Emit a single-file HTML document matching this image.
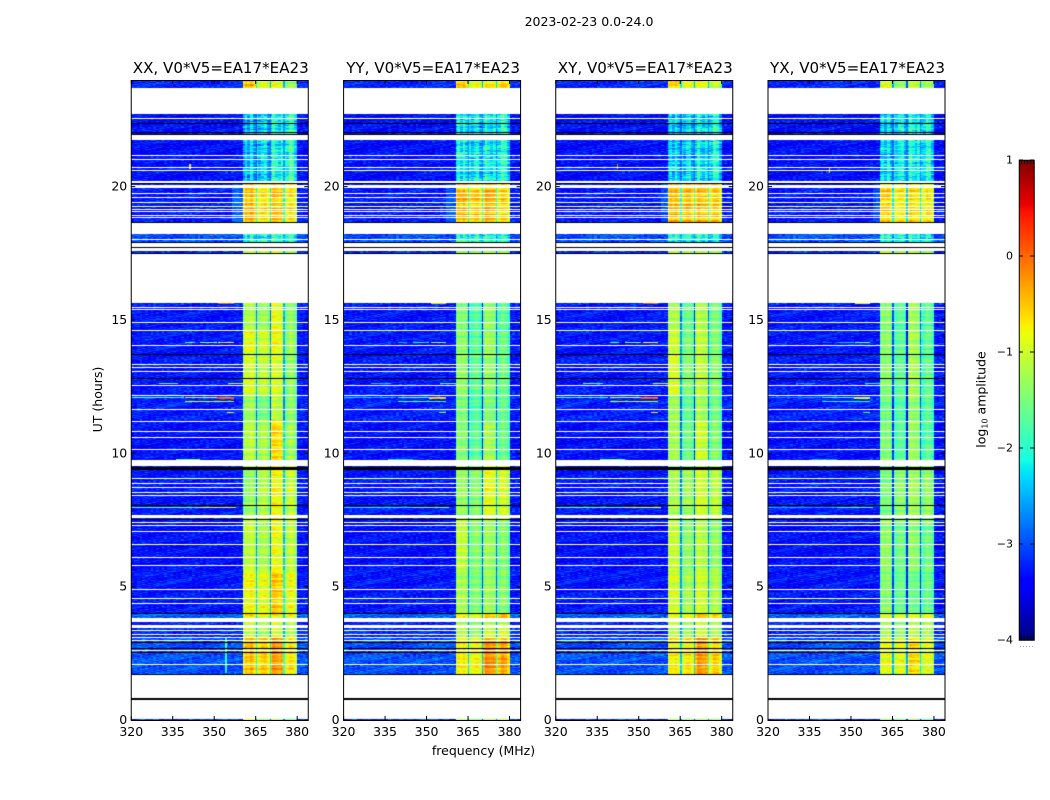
<!DOCTYPE html>
<html>
<head>
<meta charset="utf-8">
<title>2023-02-23 0.0-24.0</title>
<style>
html,body{margin:0;padding:0;background:#fff;}
#figure{position:relative;width:1050px;height:800px;overflow:hidden;background:#fff;}
canvas{position:absolute;display:block;}
svg{position:absolute;left:0;top:0;}
text{font-family:"DejaVu Sans","Liberation Sans",sans-serif;fill:#000;}
</style>
</head>
<body>
<div id="figure">
<svg id="overlay" width="1050" height="800" viewBox="0 0 1050 800">
  <text x="589" y="26" text-anchor="middle" font-size="12.5">2023-02-23 0.0-24.0</text>
  <text x="483.500" y="755" text-anchor="middle" font-size="12.5">frequency (MHz)</text>
  <text transform="translate(102,399.500) rotate(-90)" text-anchor="middle" font-size="12.5">UT (hours)</text>
  <text transform="translate(985.500,399.500) rotate(-90)" text-anchor="middle" font-size="12.5">log<tspan font-size="8" dy="2">10</tspan><tspan dy="-2"> amplitude</tspan></text>
</svg>
</div>
<script>
// ---------- Chart data ----------
const panelTitles = ["XX, V0*V5=EA17*EA23", "YY, V0*V5=EA17*EA23", "XY, V0*V5=EA17*EA23", "YX, V0*V5=EA17*EA23"];
const freqTicks = [320, 335, 350, 365, 380];
const utTicks = [0, 5, 10, 15, 20];
const colorbarTicks = [-4, -3, -2, -1, 0, 1];

// Spectral windows (MHz)
const ifWindows = [[360.5, 365], [365.5, 370], [370.5, 375], [375.5, 380]];
// Relative amplitude across one spectral window
const ifShape = [-0.22, -0.05, 0, 0.03, 0.04, 0.04, 0.03, 0, -0.05, -0.18];
// Channel-to-channel streaks inside the windows, in log10 amplitude
const channelGrain = [0.1, -0.12, 0.04, 0.16, -0.06, -0.15, 0.09, 0.02, -0.1, 0.13, 0.06, -0.17, 0.11, -0.03, 0.15, -0.08, 0, 0.08, -0.14, 0.12, -0.05, 0.17, -0.11, 0.03];

// Observed time ranges (UT hours); anything outside is blank
const timeBands = [[23.70, 24], [20.14, 22.73], [18.68, 20.14], [17.93, 18.23], [17.52, 17.60], [14.60, 15.64], [13.69, 14.60], [12.19, 13.69], [11.25, 12.19], [9.75, 11.25], [7.50, 9.53], [5.62, 7.50], [3.98, 5.62], [3.83, 3.98], [3.08, 3.68], [1.73, 3.08], [0, 0.04]];
// Off-band log10 amplitude for each time band
const backgroundLevels = [-3.2, -3.35, -3.3, -3.0, -3.2, -3.3, -3.3, -3.3, -3.25, -3.35, -3.3, -3.35, -3.3, -2.9, -3.2, -3.0, -3.2];

// log10 amplitude in the four spectral windows for each time band
const levelsXX = [[-.5, -.95, -.85, -1.35], [-2.45, -2.35, -2.1, -2.0], [-.45, -.7, -.5, -.75], [-2.05, -2.15, -2, -2.15], [-1, -1.1, -.95, -1.3], [-1.2, -1.35, -.9, -1.45], [-.9, -1.05, -.85, -1.35], [-.95, -1.1, -.95, -1.4], [-1.3, -1.55, -1.15, -1.45], [-1.15, -1.25, -.65, -1.35], [-1.35, -1.2, -.8, -1.1], [-1.1, -1.25, -.85, -1.15], [-.8, -.9, -.55, -.9], [-.65, -.8, -.65, -.8], [-1, -1.2, -.95, -1.15], [-.5, -.6, -.3, -.75], [-1, -1.4, -1.3, -1.8]];
const levelsYY = [[-.55, -.85, -.7, -.65], [-2.15, -2.25, -2.15, -2.1], [-.45, -.55, -.4, -.65], [-1.95, -2.05, -2.05, -2.05], [-1.3, -1.4, -1.2, -1.3], [-1.45, -1.75, -1.35, -1.7], [-1.4, -1.7, -1.3, -1.65], [-1.35, -1.65, -1.35, -1.6], [-1.5, -1.8, -1.5, -1.7], [-1.45, -1.7, -1.25, -1.65], [-1.35, -1.45, -.9, -1.05], [-1.1, -1.45, -1.3, -1.5], [-1.25, -1.5, -1.3, -1.5], [-.7, -.85, -.45, -.4], [-1.2, -1.4, -1.1, -1.1], [-.75, -.8, -.2, -.4], [-1.1, -1.5, -1.2, -1.3]];
const levelsXY = [[-.55, -.9, -.85, -1.1], [-2.35, -2.35, -2.25, -2.15], [-.45, -.5, -.5, -.6], [-2.05, -2.15, -2.05, -2.15], [-1.2, -1.3, -1.2, -1.3], [-1.2, -1.65, -1.2, -1.55], [-1, -1.5, -1.1, -1.5], [-.95, -1.45, -1.1, -1.45], [-1.3, -1.7, -1.3, -1.6], [-1.25, -1.6, -1.05, -1.5], [-1.2, -1.3, -1, -1.15], [-1.05, -1.4, -1.15, -1.4], [-1, -1.3, -1.05, -1.25], [-.75, -.85, -.5, -.65], [-1.1, -1.3, -1, -1.2], [-.75, -.75, -.3, -.65], [-1.2, -1.5, -1.3, -1.5]];
const levelsYX = [[-.95, -1.4, -1.1, -1.3], [-2.35, -2.25, -2.15, -2.15], [-.6, -.75, -.65, -.75], [-2.15, -2.15, -2.05, -2.15], [-1.2, -1.3, -1.2, -1.4], [-1.45, -1.75, -1.3, -1.7], [-1.4, -1.7, -1.25, -1.7], [-1.45, -1.7, -1.25, -1.7], [-1.6, -1.8, -1.4, -1.75], [-1.5, -1.75, -1.35, -1.75], [-1.55, -1.45, -1.3, -1.4], [-1.4, -1.6, -1.4, -1.6], [-1.45, -1.65, -1.6, -1.65], [-1, -1.05, -.95, -.95], [-1.3, -1.45, -1.2, -1.3], [-.9, -.95, -.65, -.95], [-1.4, -1.7, -1.5, -1.8]];
const panelLevels = [levelsXX, levelsYY, levelsXY, levelsYX];

// Flagged integrations (UT hours): white = no data, black = zero amplitude
const whiteRows = [22.54, 21.18, 21.03, 20.73, 20.60, 19.98, 19.75, 19.58, 19.40, 19.24, 19.15, 19.05, 18.90, 18.85, 18.01, 15.46, 15.38, 14.89, 14.60, 14.06, 13.32, 13.23, 13.08, 12.56, 12.18, 11.65, 11.20, 10.83, 10.60, 10.15, 9.05, 8.85, 8.70, 8.52, 8.40, 7.39, 7.28, 7.05, 6.59, 6.10, 5.81, 4.88, 4.56, 4.38, 3.35, 3.22, 3.11, 2.97, 2.60, 2.09];
const whiteRanges = [[21.75, 21.92], [20.0, 20.08], [20.12, 20.22], [7.56, 7.67], [3.46, 3.58]];
const blackRows = [22.35, 22.02, 21.94, 20.10, 17.91, 17.71, 17.51, 13.71, 12.80, 8.03, 7.50, 3.99, 2.89, 2.67, 2.52];
const blackRanges = [[9.37, 9.47], [18.62, 18.68], [1.67, 1.71], [0.76, 0.81]];

// Narrow-band interference: [UT hour, start MHz, end MHz, log10 amplitude]
const rfiRows = [[15.62, 351.5, 357, 0], [14.17, 339.5, 343, -1.9], [14.17, 345, 351, -1.5], [14.17, 351.5, 357, -0.7], [12.63, 330, 337, -1.8], [12.63, 355, 360.5, -1.2], [12.08, 320, 339, -1.8], [12.08, 339.5, 351, -1.1], [12.08, 351, 357, -0.1], [12.04, 351, 357, 0.1], [11.96, 339.5, 357, -1.1], [11.53, 354.7, 357, -0.9], [9.78, 336, 345, -1.7], [7.97, 320, 345, -1.6], [7.97, 345, 358, -0.9]];
// Per-panel shift applied to the interference amplitude
const rfiOffsets = [0, -0.6, 0, -0.9];

// Other localised features: [panel, first UT, last UT, start MHz, end MHz, log10 amplitude]
const patches = [[0, 1.75, 3.1, 354, 354.5, -2], [0, 18.68, 20.14, 356.5, 360.5, -2.9], [1, 18.68, 20.14, 357, 360.5, -2.95], [2, 18.68, 20.14, 358, 360.5, -3], [3, 18.68, 20.14, 358, 360.5, -3], [0, 18.14, 18.2, 349, 349.5, 0], [0, 20.65, 20.85, 341, 341.5, -0.8], [2, 20.65, 20.85, 342, 342.5, -0.2], [3, 20.5, 20.75, 342, 342.5, -0.5]];

// Hand-read grain of the noise floor, in log10 amplitude, tiled across the cells
const speckle = [0.12, -0.31, 0.44, -0.08, 0.27, -0.42, 0.05, 0.36, -0.19, -0.5, 0.21, 0.48, -0.27, 0.02, -0.38, 0.31, 0.09, -0.14, 0.56, -0.46, 0.17, -0.03, 0.39, -0.33, -0.11, 0.25, -0.52, 0.41, 0.07, -0.22, 0.33, -0.36, 0.14, 0.5, -0.17, -0.44, 0.28, -0.06, 0.19, -0.29, 0.46, 0, -0.4, 0.23, 0.1, -0.25, 0.37, -0.48, 0.3, -0.12, 0.16, 0.53, -0.35, 0.04, -0.2, 0.42, -0.09, -0.3, 0.24];
// Hand-read integration-to-integration amplitude changes
const rowGrain = [0.06, -0.08, 0.14, 0.02, -0.12, 0.09, -0.03, 0.17, -0.15, 0.05, 0.11, -0.06, -0.14, 0.08, 0.01, 0.15, -0.1, 0.04, -0.05, 0.12, -0.17, 0.07, 0.1, -0.02, -0.09, 0.16, -0.04, 0.03, -0.13, 0.09, 0];

// ---------- Axes ----------
const panelLefts = [131.25, 343.6, 555.75, 768];
const panelWidth = 177, axisTop = 80, axisBottom = 720;
const freqMin = 320, freqMax = 384, utMin = 0, utMax = 24;
const channelMHz = 0.5, rowHours = 0.0375;
const cbarLeft = 1019, cbarRight = 1034, cbarTop = 160, cbarBottom = 640, logMin = -4, logMax = 1;

function xScale(p, f) { return panelLefts[p] + (f - freqMin) / (freqMax - freqMin) * panelWidth; }
function yScale(h) { return axisBottom - (h - utMin) / (utMax - utMin) * (axisBottom - axisTop); }
function cbarScale(v) { return cbarBottom - (v - logMin) / (logMax - logMin) * (cbarBottom - cbarTop); }

function clamp01(v) { return Math.max(0, Math.min(1, v)); }
function jet(v) {
  const t = clamp01((v - logMin) / (logMax - logMin));
  const r = t < .35 ? 0 : t < .66 ? (t - .35) / .31 : t < .89 ? 1 : 1 - (t - .89) / .11 * .5;
  const g = t < .125 ? 0 : t < .375 ? (t - .125) / .25 : t < .64 ? 1 : t < .91 ? 1 - (t - .64) / .27 : 0;
  const b = t < .11 ? .5 + t / .11 * .5 : t < .34 ? 1 : t < .65 ? 1 - (t - .34) / .31 : 0;
  return [Math.round(r * 255), Math.round(g * 255), Math.round(b * 255)];
}

function rowOf(h) { return Math.floor(h / rowHours + 1e-6); }
const whiteSet = new Set(whiteRows.map(rowOf));
const blackSet = new Set(blackRows.map(rowOf));

function inRanges(ranges, h) {
  for (const range of ranges) {
    if (h >= range[0] && h < range[1]) return true;
  }
  return false;
}

function bandIndexOf(h) {
  for (let i = 0; i < timeBands.length; i++) {
    if (h >= timeBands[i][0] && h < timeBands[i][1]) return i;
  }
  return -1;
}

// Returns null (blank), 'black', or a log10 amplitude
function cellValue(p, r, c) {
  const h = (r + 0.5) * rowHours;
  const f = freqMin + (c + 0.5) * channelMHz;
  if (blackSet.has(r) || inRanges(blackRanges, h)) return 'black';
  if (whiteSet.has(r) || inRanges(whiteRanges, h)) return null;
  const band = bandIndexOf(h);
  if (band < 0) return null;
  const g = Math.floor(c / 2) + p * 5;
  const grain = (speckle[(g * 23 + r * 13) % speckle.length] + speckle[(g * g * 3 + r * r * 7 + g * r) % speckle.length]) * 0.7;
  const rowTerm = rowGrain[(Math.floor(r / 2) + p * 3) % rowGrain.length];
  for (const rf of rfiRows) {
    if (Math.abs(rf[0] - h) <= rowHours / 2 && f >= rf[1] && f < rf[2]) return rf[3] + rfiOffsets[p] + grain * 0.3;
  }
  for (const pt of patches) {
    if (pt[0] === p && h >= pt[1] && h < pt[2] && f >= pt[3] && f < pt[4]) return pt[5] + grain * 0.4;
  }
  const levels = panelLevels[p][band];
  for (let w = 0; w < ifWindows.length; w++) {
    const win = ifWindows[w];
    if (f >= win[0] && f < win[1]) {
      const k = Math.min(ifShape.length - 1, Math.floor((f - win[0]) / (win[1] - win[0]) * ifShape.length));
      const faint = levels[w] < -1.9;
      const streak = channelGrain[Math.floor(c / 2) % channelGrain.length] * (faint ? 1.6 : 0.6);
      return levels[w] + ifShape[k] + streak + grain * (faint ? 0.6 : 0.25) + rowTerm * 1.2;
    }
    if (w < ifWindows.length - 1 && f >= win[1] && f < ifWindows[w + 1][0]) {
      return levels[w] - (levels[w] < -1.9 ? 0.5 : 1.6) + grain * 0.3;
    }
  }
  return backgroundLevels[band] + grain * 0.6 + rowTerm * 0.2;
}

// ---------- Heatmaps ----------
const figure = document.getElementById('figure');
const overlay = document.getElementById('overlay');
const NS = 'http://www.w3.org/2000/svg';

function drawHeatmap(p) {
  const left = Math.round(panelLefts[p]);
  const canvas = document.createElement('canvas');
  
  
  canvas.width = panelWidth;
  canvas.height = axisBottom - axisTop;
  canvas.style.left = left + 'px';
  canvas.style.top = axisTop + 'px';
  figure.insertBefore(canvas, overlay);
  const ctx = canvas.getContext('2d');
  const img = ctx.createImageData(canvas.width, canvas.height);
  const d = img.data;
  const nCols = Math.round((freqMax - freqMin) / channelMHz);
  const nRows = Math.round((utMax - utMin) / rowHours);
  for (let r = 0; r < nRows; r++) {
    const y0 = Math.round(yScale((r + 1) * rowHours)) - axisTop;
    const y1 = Math.round(yScale(r * rowHours)) - axisTop;
    for (let c = 0; c < nCols; c++) {
      const v = cellValue(p, r, c);
      if (v === null) continue;
      const rgb = v === 'black' ? [0, 0, 0] : jet(v);
      const x0 = Math.round(xScale(p, freqMin + c * channelMHz)) - left;
      const x1 = Math.round(xScale(p, freqMin + (c + 1) * channelMHz)) - left;
      for (let y = y0; y < y1; y++) {
        for (let x = x0; x < x1 && x < canvas.width; x++) {
          const i = (y * canvas.width + x) * 4;
          d[i] = rgb[0]; d[i + 1] = rgb[1]; d[i + 2] = rgb[2]; d[i + 3] = 255;
        }
      }
    }
  }
  ctx.putImageData(img, 0, 0);
}

// ---------- SVG helpers ----------
function addLine(parent, name, x1, y1, x2, y2, stroke) {
  const el = document.createElementNS(NS, 'line');
  
  
  el.setAttribute('x1', x1);
  el.setAttribute('y1', y1);
  el.setAttribute('x2', x2);
  el.setAttribute('y2', y2);
  el.setAttribute('stroke', stroke || '#000');
  el.setAttribute('stroke-width', '1');
  parent.appendChild(el);
  return el;
}
function addText(parent, name, str, x, y, anchor, size) {
  const el = document.createElementNS(NS, 'text');
  
  
  el.setAttribute('x', x);
  el.setAttribute('y', y);
  el.setAttribute('text-anchor', anchor);
  el.setAttribute('font-size', size);
  el.textContent = str;
  parent.appendChild(el);
  return el;
}
function addBox(parent, name, x, y, w, h) {
  const el = document.createElementNS(NS, 'rect');
  
  
  el.setAttribute('x', x);
  el.setAttribute('y', y);
  el.setAttribute('width', w);
  el.setAttribute('height', h);
  el.setAttribute('fill', 'none');
  el.setAttribute('stroke', '#000');
  el.setAttribute('stroke-width', '1');
  parent.appendChild(el);
  return el;
}

function drawPanelAxes(p) {
  const left = panelLefts[p], right = left + panelWidth;
  const g = document.createElementNS(NS, 'g');
  
  
  overlay.appendChild(g);
  addBox(g, 'panel-frame', left, axisTop + 0.5, panelWidth, axisBottom - axisTop);
  addText(g, 'panel-title', panelTitles[p], left + panelWidth / 2 + 1, 73, 'middle', 15.1);
  for (const f of freqTicks) {
    const x = xScale(p, f);
    addLine(g, 'x-tick', x, axisBottom, x, axisBottom - 4);
    addLine(g, 'x-tick-top', x, axisTop, x, axisTop + 4);
    addText(g, 'x-tick-label', String(f), x, 736, 'middle', 12.5);
  }
  for (const h of utTicks) {
    const y = yScale(h);
    addLine(g, 'y-tick', left, y, left + 4, y);
    addLine(g, 'y-tick-right', right, y, right - 4, y);
    addText(g, 'y-tick-label', String(h), left - 4, y + 4, 'end', 12.5);
  }
}

function drawColorbar() {
  const canvas = document.createElement('canvas');
  
  
  canvas.width = cbarRight - cbarLeft;
  canvas.height = cbarBottom - cbarTop;
  canvas.style.left = cbarLeft + 'px';
  canvas.style.top = cbarTop + 'px';
  figure.insertBefore(canvas, overlay);
  const ctx = canvas.getContext('2d');
  for (let y = 0; y < canvas.height; y++) {
    const v = logMax - (y + 0.5) / canvas.height * (logMax - logMin);
    const rgb = jet(v);
    ctx.fillStyle = 'rgb(' + rgb.join(',') + ')';
    ctx.fillRect(0, y, canvas.width, 1);
  }
  const g = document.createElementNS(NS, 'g');
  
  
  overlay.appendChild(g);
  addBox(g, 'colorbar-frame', cbarLeft + 0.25, cbarTop + 0.25, cbarRight - cbarLeft, cbarBottom - cbarTop);
  for (const v of colorbarTicks) {
    const y = cbarScale(v);
    addLine(g, 'colorbar-tick', cbarLeft, y, cbarLeft + 4, y);
    addLine(g, 'colorbar-tick-right', cbarRight, y, cbarRight - 4, y);
    addText(g, 'colorbar-tick-label', (v < 0 ? '\u2212' + (-v) : String(v)), 1013, y + 3.5, 'end', 11);
  }
  for (let x = cbarLeft + 2; x < cbarRight; x += 3) {
    addLine(g, 'colorbar-minor-tick', x + 0.5, cbarTop, x + 0.5, cbarTop + 4);
    addLine(g, 'colorbar-minor-tick', x + 0.5, cbarBottom, x + 0.5, cbarBottom - 4);
    addLine(g, 'colorbar-stray-mark', x - 1, 646.5, x, 646.5, '#aaa');
  }
}

for (let p = 0; p < panelTitles.length; p++) {
  drawHeatmap(p);
  drawPanelAxes(p);
}
drawColorbar();
</script>
</body>
</html>
